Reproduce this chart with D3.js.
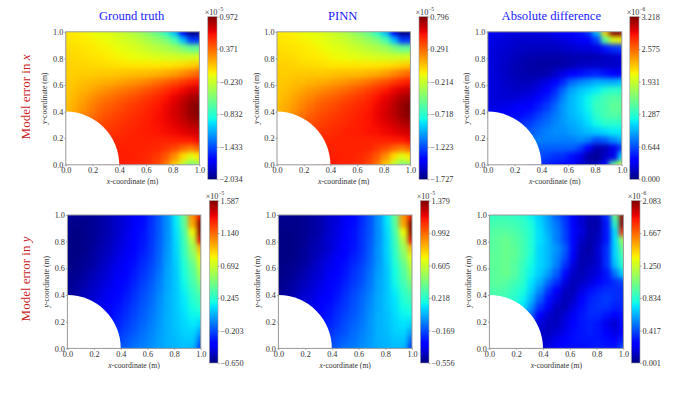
<!DOCTYPE html>
<html>
<head>
	<meta charset="utf-8">
	<title>Model error</title>
	<script src="https://cdn.jsdelivr.net/npm/d3@7"></script>
	<style>
		body { margin: 0; background: #fff; font-family: "Liberation Serif", serif; }
	</style>
</head>
<body>
<div id="chart"></div>
<script>
	const _ = null; // inside the hole

	// rows run from y = 1 down to y = 0, 17 nodes along x
	const truthX = [
		[-.04,-.05,-.07,-.10,-.13,-.16,-.20,-.25,-.32,-.40,-.50,-.62,-.82,-1.10,-1.70,-2.03,-2.00],
		[-.02,-.03,-.05,-.07,-.09,-.12,-.16,-.20,-.24,-.30,-.36,-.44,-.52,-.72,-1.10,-1.50,-1.50],
		[.00,-.01,-.02,-.04,-.06,-.08,-.11,-.14,-.17,-.21,-.25,-.30,-.34,-.40,-.50,-.60,-.60],
		[.02,.01,.00,-.02,-.03,-.05,-.07,-.09,-.11,-.13,-.15,-.17,-.19,-.20,-.21,-.20,-.18],
		[.03,.03,.02,.01,.00,-.01,-.02,-.03,-.03,-.04,-.04,-.04,-.03,-.02,.00,.03,.06],
		[.04,.04,.05,.05,.06,.06,.07,.08,.09,.10,.11,.13,.16,.20,.26,.32,.38],
		[.05,.07,.09,.11,.13,.15,.17,.20,.23,.26,.30,.35,.40,.46,.52,.58,.62],
		[.06,.09,.13,.17,.21,.25,.29,.32,.36,.40,.45,.50,.56,.62,.68,.74,.78],
		[.07,.12,.18,.24,.29,.34,.38,.42,.46,.50,.54,.59,.64,.70,.78,.86,.90],
		[.09,.15,.22,.29,.35,.40,.44,.48,.52,.55,.59,.63,.68,.74,.82,.92,.97],
		[.10,.18,.26,.33,.40,.45,.49,.52,.55,.58,.61,.65,.69,.75,.82,.91,.96],
		[_,_,.36,.40,.45,.49,.52,.55,.57,.60,.62,.65,.68,.72,.78,.84,.88],
		[_,_,_,.46,.50,.53,.55,.57,.59,.61,.62,.64,.66,.68,.71,.75,.78],
		[_,_,_,_,.55,.57,.58,.59,.60,.60,.60,.60,.60,.61,.62,.63,.68],
		[_,_,_,_,_,.59,.60,.60,.60,.60,.59,.58,.54,.48,.38,.32,.40],
		[_,_,_,_,_,.61,.61,.61,.60,.59,.57,.52,.42,.25,.00,-.15,-.05],
		[_,_,_,_,_,.62,.62,.62,.60,.58,.55,.48,.32,.05,-.30,-.55,-.45],
	];
	const pinnX = [
		[-.05,-.06,-.08,-.10,-.13,-.15,-.19,-.23,-.29,-.36,-.44,-.54,-.71,-.94,-1.45,-1.72,-1.70],
		[-.04,-.05,-.06,-.08,-.10,-.12,-.15,-.19,-.22,-.27,-.32,-.39,-.46,-.62,-.94,-1.28,-1.28],
		[-.02,-.03,-.04,-.05,-.07,-.09,-.11,-.14,-.16,-.20,-.23,-.27,-.30,-.35,-.44,-.52,-.52],
		[.00,-.01,-.02,-.04,-.05,-.06,-.08,-.10,-.11,-.13,-.15,-.16,-.18,-.19,-.20,-.19,-.17],
		[.01,.01,.00,-.01,-.02,-.03,-.04,-.05,-.05,-.05,-.05,-.05,-.05,-.04,-.02,.01,.03],
		[.02,.02,.03,.03,.03,.03,.04,.05,.06,.06,.07,.09,.11,.15,.20,.25,.30],
		[.03,.04,.06,.07,.09,.11,.12,.15,.17,.20,.23,.27,.32,.36,.42,.47,.50],
		[.03,.06,.09,.12,.16,.19,.22,.25,.28,.32,.36,.40,.45,.50,.56,.60,.64],
		[.04,.08,.13,.18,.22,.27,.30,.33,.37,.40,.43,.47,.52,.57,.63,.70,.74],
		[.06,.11,.16,.22,.27,.32,.35,.38,.42,.44,.47,.50,.55,.60,.67,.75,.80],
		[.06,.13,.20,.26,.32,.36,.39,.42,.44,.47,.49,.52,.56,.61,.67,.74,.79],
		[_,_,.28,.32,.36,.39,.42,.44,.46,.48,.50,.52,.55,.58,.63,.68,.72],
		[_,_,_,.37,.40,.43,.44,.46,.48,.49,.50,.52,.53,.55,.57,.61,.63],
		[_,_,_,_,.44,.46,.47,.48,.48,.48,.48,.48,.48,.49,.50,.51,.55],
		[_,_,_,_,_,.48,.48,.48,.48,.48,.48,.47,.43,.38,.30,.25,.32],
		[_,_,_,_,_,.49,.49,.49,.48,.48,.46,.42,.33,.19,-.02,-.15,-.06],
		[_,_,_,_,_,.50,.50,.50,.48,.47,.44,.38,.25,.02,-.27,-.48,-.40],
	];
	const diffX = [
		[.33,.30,.28,.27,.26,.26,.26,.28,.32,.36,.40,.45,.55,1.00,2.20,3.20,3.20],
		[.30,.27,.25,.23,.22,.22,.22,.22,.24,.26,.30,.34,.40,.60,1.50,2.00,2.10],
		[.28,.25,.23,.21,.19,.18,.18,.18,.18,.20,.22,.25,.26,.28,.45,.55,.60],
		[.27,.24,.21,.18,.15,.13,.13,.12,.12,.12,.13,.14,.14,.15,.18,.20,.25],
		[.28,.24,.20,.16,.13,.11,.10,.10,.11,.12,.14,.18,.20,.20,.20,.20,.22],
		[.28,.24,.20,.16,.13,.12,.12,.13,.20,.28,.38,.43,.48,.50,.45,.40,.40],
		[.28,.25,.21,.18,.16,.17,.21,.28,.36,.52,.72,.82,.88,.95,.95,.95,1.00],
		[.28,.25,.22,.20,.20,.22,.28,.38,.52,.72,.92,1.02,1.08,1.15,1.25,1.30,1.30],
		[.27,.25,.24,.24,.26,.30,.36,.48,.62,.82,.98,1.08,1.18,1.30,1.40,1.45,1.45],
		[.28,.28,.30,.32,.36,.40,.48,.58,.72,.88,.98,1.08,1.18,1.35,1.40,1.50,1.50],
		[.32,.33,.35,.38,.43,.48,.58,.68,.78,.88,.98,1.05,1.15,1.30,1.40,1.45,1.45],
		[_,_,.42,.48,.53,.58,.68,.74,.82,.88,.94,1.00,1.10,1.20,1.30,1.30,1.30],
		[_,_,_,.53,.60,.68,.74,.80,.85,.85,.90,.95,1.00,1.05,1.10,1.15,1.15],
		[_,_,_,_,.70,.75,.80,.80,.80,.80,.80,.85,.80,.65,.70,.85,.95],
		[_,_,_,_,_,.75,.70,.70,.70,.70,.70,.60,.40,.15,.15,.30,.60],
		[_,_,_,_,_,.70,.65,.60,.55,.55,.45,.30,.12,.06,.20,.30,1.10],
		[_,_,_,_,_,.60,.55,.50,.45,.40,.35,.25,.15,.18,.35,1.50,2.00],
	];
	const truthY = [
		[-.60,-.61,-.62,-.61,-.58,-.55,-.50,-.46,-.42,-.36,-.28,-.18,-.05,.15,.40,1.05,1.35],
		[-.62,-.63,-.63,-.61,-.58,-.55,-.50,-.46,-.41,-.35,-.27,-.18,-.05,.14,.38,1.00,1.58],
		[-.63,-.64,-.63,-.61,-.58,-.55,-.50,-.45,-.40,-.34,-.26,-.18,-.05,.12,.33,.80,1.58],
		[-.64,-.64,-.63,-.61,-.57,-.54,-.49,-.44,-.39,-.33,-.26,-.17,-.05,.11,.30,.65,1.40],
		[-.64,-.64,-.63,-.60,-.56,-.53,-.48,-.43,-.38,-.32,-.25,-.16,-.04,.10,.28,.55,.95],
		[-.64,-.64,-.62,-.59,-.55,-.51,-.46,-.41,-.36,-.30,-.24,-.15,-.03,.09,.26,.48,.80],
		[-.64,-.63,-.61,-.58,-.53,-.49,-.44,-.39,-.34,-.28,-.22,-.14,-.02,.08,.22,.40,.70],
		[-.63,-.62,-.59,-.55,-.51,-.47,-.42,-.37,-.32,-.26,-.20,-.12,-.01,.07,.20,.36,.60],
		[-.62,-.60,-.57,-.53,-.49,-.45,-.40,-.35,-.30,-.24,-.18,-.10,.00,.07,.18,.32,.50],
		[-.61,-.59,-.55,-.51,-.47,-.43,-.38,-.33,-.28,-.22,-.16,-.09,.00,.07,.16,.28,.40],
		[-.60,-.57,-.53,-.49,-.45,-.41,-.36,-.31,-.26,-.20,-.14,-.07,.01,.07,.14,.24,.32],
		[_,_,-.51,-.47,-.43,-.39,-.34,-.29,-.24,-.18,-.13,-.06,.01,.07,.13,.20,.26],
		[_,_,_,-.45,-.41,-.37,-.32,-.27,-.22,-.17,-.11,-.05,.02,.06,.12,.17,.18],
		[_,_,_,_,-.38,-.34,-.30,-.25,-.20,-.15,-.10,-.04,.02,.06,.10,.14,.10],
		[_,_,_,_,_,-.31,-.27,-.22,-.18,-.13,-.08,-.03,.02,.05,.09,.10,-.02],
		[_,_,_,_,_,-.28,-.24,-.19,-.15,-.11,-.07,-.02,.02,.04,.07,.07,-.15],
		[_,_,_,_,_,-.24,-.20,-.16,-.12,-.09,-.05,-.02,.01,.03,.05,.03,-.25],
	];
	const pinnY = [
		[-.52,-.53,-.54,-.53,-.50,-.48,-.43,-.40,-.36,-.31,-.24,-.16,-.04,.13,.35,.91,1.17],
		[-.54,-.54,-.54,-.53,-.50,-.48,-.43,-.40,-.35,-.30,-.23,-.16,-.04,.12,.33,.87,1.37],
		[-.54,-.55,-.54,-.53,-.50,-.48,-.43,-.39,-.35,-.29,-.22,-.16,-.04,.10,.29,.69,1.37],
		[-.55,-.55,-.54,-.53,-.49,-.47,-.42,-.38,-.34,-.29,-.22,-.15,-.04,.09,.26,.56,1.21],
		[-.55,-.55,-.54,-.52,-.48,-.46,-.42,-.37,-.33,-.28,-.22,-.14,-.03,.09,.24,.48,.82],
		[-.55,-.55,-.54,-.51,-.48,-.44,-.40,-.35,-.31,-.26,-.21,-.13,-.03,.08,.22,.42,.69],
		[-.55,-.54,-.53,-.50,-.46,-.42,-.38,-.34,-.29,-.24,-.19,-.12,-.02,.07,.19,.35,.60],
		[-.54,-.54,-.51,-.48,-.44,-.41,-.36,-.32,-.28,-.22,-.17,-.10,-.01,.06,.17,.31,.52],
		[-.54,-.52,-.49,-.46,-.42,-.39,-.35,-.30,-.26,-.21,-.16,-.09,.00,.06,.16,.28,.43],
		[-.53,-.51,-.48,-.44,-.41,-.37,-.33,-.29,-.24,-.19,-.14,-.08,.00,.06,.14,.24,.35],
		[-.52,-.49,-.46,-.42,-.39,-.35,-.31,-.27,-.22,-.17,-.12,-.06,.01,.06,.12,.21,.28],
		[_,_,-.44,-.41,-.37,-.34,-.29,-.25,-.21,-.16,-.11,-.05,.01,.06,.11,.17,.22],
		[_,_,_,-.39,-.35,-.32,-.28,-.23,-.19,-.15,-.10,-.04,.02,.05,.10,.15,.16],
		[_,_,_,_,-.33,-.29,-.26,-.22,-.17,-.13,-.09,-.03,.02,.05,.09,.12,.09],
		[_,_,_,_,_,-.27,-.23,-.19,-.16,-.11,-.07,-.03,.02,.04,.08,.09,-.02],
		[_,_,_,_,_,-.24,-.21,-.16,-.13,-.10,-.06,-.02,.02,.03,.06,.06,-.13],
		[_,_,_,_,_,-.21,-.17,-.14,-.10,-.08,-.04,-.02,.01,.03,.04,.03,-.22],
	];
	const diffY = [
		[.85,.87,.87,.85,.82,.76,.68,.58,.45,.36,.22,.15,.10,.10,.35,1.00,2.05],
		[.90,.91,.91,.89,.86,.80,.70,.60,.50,.38,.25,.15,.08,.08,.30,.85,2.05],
		[.93,.95,.95,.93,.88,.82,.72,.62,.52,.40,.27,.17,.08,.10,.30,.72,1.80],
		[.95,.97,1.00,.95,.90,.82,.72,.64,.52,.40,.27,.13,.08,.12,.30,.72,1.15],
		[.95,.97,1.00,.97,.90,.82,.70,.64,.56,.45,.27,.10,.07,.15,.35,.70,1.00],
		[.97,.97,1.00,.97,.90,.80,.70,.64,.54,.42,.22,.09,.09,.15,.35,.70,.90],
		[.97,.97,1.00,.95,.87,.78,.70,.64,.52,.36,.17,.09,.11,.15,.35,.65,.85],
		[.95,.97,1.00,.95,.85,.76,.68,.58,.45,.28,.13,.10,.14,.18,.30,.50,.70],
		[.95,.97,.95,.90,.84,.73,.62,.48,.36,.18,.10,.13,.17,.25,.30,.35,.40],
		[.93,.93,.92,.86,.80,.70,.55,.38,.26,.12,.10,.18,.28,.32,.35,.35,.35],
		[.90,.90,.88,.84,.76,.64,.46,.30,.18,.10,.13,.25,.32,.35,.38,.35,.35],
		[_,_,.84,.78,.72,.56,.36,.24,.12,.10,.18,.28,.34,.36,.36,.32,.33],
		[_,_,_,.74,.62,.46,.26,.15,.10,.15,.22,.30,.34,.34,.30,.25,.30],
		[_,_,_,_,.50,.36,.17,.12,.12,.18,.25,.30,.32,.30,.20,.15,.28],
		[_,_,_,_,_,.26,.14,.12,.15,.20,.28,.30,.32,.30,.25,.18,.25],
		[_,_,_,_,_,.18,.13,.15,.20,.26,.28,.30,.30,.30,.28,.25,.32],
		[_,_,_,_,_,.14,.14,.18,.24,.28,.28,.28,.30,.32,.30,.30,.42],
	];

	const gridX = [0,.0625,.125,.1875,.25,.3125,.375,.4375,.5,.5625,.625,.6875,.75,.8125,.875,.9375,1];
	const gridY = [1,.9375,.875,.8125,.75,.6875,.625,.5625,.5,.4375,.375,.3125,.25,.1875,.125,.0625,0];
	const axisTicks = [0,.2,.4,.6,.8,1];
	const holeRadius = .4;

	const barTicksTruthX = [-2.034,-1.433,-.832,-.230,.371,.972];
	const barTicksPinnX = [-1.727,-1.223,-.718,-.214,.291,.796];
	const barTicksDiffX = [0,.644,1.287,1.931,2.575,3.218];
	const barTicksTruthY = [-.650,-.203,.245,.692,1.140,1.587];
	const barTicksPinnY = [-.556,-.169,.218,.605,.992,1.379];
	const barTicksDiffY = [.001,.417,.834,1.250,1.667,2.083];

	const titles = ["Ground truth","PINN","Absolute difference"];
	const exponents = ["\u22125","\u22125","\u22126","\u22125","\u22125","\u22126"];

	// layout
	const width = 698, height = 393;
	const jetStops = [0,.11,.125,.35,.375,.64,.66,.89,.91,1];
	const jetColors = ["#000080","#0000ff","#0000ff","#00e6ff","#14ffe2","#ebff08","#ffec00","#ff1300","#e80000","#800000"];

	const panels = [
		{ grid: truthX, ticks: barTicksTruthX, x0: 65.8, x1: 199.4, y0: 31.8, y1: 164.8, bx0: 207.8, bx1: 217, by0: 16.7, by1: 179.3 },
		{ grid: pinnX, ticks: barTicksPinnX, x0: 277, x1: 410.4, y0: 31.8, y1: 164.8, bx0: 419, bx1: 427.8, by0: 16.7, by1: 179.3 },
		{ grid: diffX, ticks: barTicksDiffX, x0: 487.8, x1: 621.8, y0: 31.8, y1: 164.8, bx0: 629.8, bx1: 639, by0: 16.7, by1: 179.3 },
		{ grid: truthY, ticks: barTicksTruthY, x0: 67.4, x1: 200.8, y0: 215, y1: 348.4, bx0: 209.4, bx1: 218, by0: 200.7, by1: 363 },
		{ grid: pinnY, ticks: barTicksPinnY, x0: 278.4, x1: 412, y0: 215, y1: 348.4, bx0: 420.4, bx1: 429, by0: 200.7, by1: 363 },
		{ grid: diffY, ticks: barTicksDiffY, x0: 489.4, x1: 623.4, y0: 215, y1: 348.4, bx0: 631.4, bx1: 640, by0: 200.7, by1: 363 },
	];

	const svg = d3.select("#chart").append("svg")
		.attr("width", width)
		.attr("height", height)
		.attr("font-family", "'Liberation Serif', serif")
		.style("display", "block");

	const defs = svg.append("defs");

	defs.append("filter")
		.attr("id", "soft")
		.attr("filterUnits", "userSpaceOnUse")
		.attr("x", 0).attr("y", 0).attr("width", width).attr("height", height)
		.attr("color-interpolation-filters", "sRGB")
		.append("feGaussianBlur")
		.attr("stdDeviation", 2.6);

	function italicLabel(sel, letter, rest) {
		sel.append("tspan").attr("font-style", "italic").text(letter);
		sel.append("tspan").text(rest);
	}

	panels.forEach((p, n) => {
		const min = p.ticks[0], max = p.ticks[p.ticks.length - 1];
		const x = d3.scaleLinear().domain([0, 1]).range([p.x0, p.x1]);
		const y = d3.scaleLinear().domain([0, 1]).range([p.y1, p.y0]);
		const color = d3.scaleLinear()
			.domain(jetStops.map(t => min + t * (max - min)))
			.range(jetColors)
			.clamp(true);

		const g = svg.append("g");

		defs.append("clipPath")
			.attr("id", `plot${n}`)
			.append("rect")
			.attr("x", p.x0).attr("y", p.y0)
			.attr("width", p.x1 - p.x0).attr("height", p.y1 - p.y0);

		// cells are centred on their node, the outer ones run past the frame so the blur stays opaque
		const step = 1 / 32, pad = .12;
		const cells = p.grid.flatMap((row, r) => row.map((v, c) => ({ v, c, r })))
			.filter(d => d.v !== null);

		g.append("g")
			.attr("clip-path", `url(#plot${n})`)
			.append("g")
			.attr("filter", "url(#soft)")
			.selectAll("rect")
			.data(cells)
			.join("rect")
			.attr("shape-rendering", "crispEdges")
			.attr("x", d => x(d.c === 0 ? -pad : gridX[d.c] - step))
			.attr("width", d => x(d.c === 16 ? 1 + pad : gridX[d.c] + step) - x(d.c === 0 ? -pad : gridX[d.c] - step))
			.attr("y", d => y(d.r === 0 ? 1 + pad : gridY[d.r] + step))
			.attr("height", d => y(d.r === 16 ? -pad : gridY[d.r] - step) - y(d.r === 0 ? 1 + pad : gridY[d.r] + step))
			.attr("fill", d => color(d.v));

		// the quarter hole
		g.append("path")
			.attr("d", d3.arc()({
				innerRadius: 0,
				outerRadius: x(holeRadius) - x(0),
				startAngle: 0,
				endAngle: Math.PI / 2,
			}))
			.attr("transform", `translate(${x(0)},${y(0)}) scale(1,${(y(0) - y(holeRadius)) / (x(holeRadius) - x(0))})`)
			.attr("fill", "#fff");

		g.append("rect")
			.attr("x", p.x0).attr("y", p.y0)
			.attr("width", p.x1 - p.x0).attr("height", p.y1 - p.y0)
			.attr("fill", "none")
			.attr("stroke", "#999")
			.attr("stroke-width", 1);

		const xAxis = g.append("g")
			.attr("transform", `translate(0,${p.y1})`)
			.call(d3.axisBottom(x).tickValues(axisTicks).tickFormat(d3.format(".1f")).tickSize(1.5).tickPadding(1));
		const yAxis = g.append("g")
			.attr("transform", `translate(${p.x0},0)`)
			.call(d3.axisLeft(y).tickValues(axisTicks).tickFormat(d3.format(".1f")).tickSize(1.5).tickPadding(1));
		[xAxis, yAxis].forEach(a => {
			a.select(".domain").remove();
			a.attr("font-family", null).attr("font-size", 8.2);
			a.selectAll("line").attr("stroke", "#777").attr("stroke-width", .6);
			a.selectAll("text").attr("fill", "#333");
		});

		g.append("text")
			.attr("x", (p.x0 + p.x1) / 2)
			.attr("y", p.y1 + 19.5)
			.attr("text-anchor", "middle")
			.attr("font-size", 7.7)
			.attr("fill", "#333")
			.call(italicLabel, "x", "-coordinate (m)");

		g.append("text")
			.attr("transform", `translate(${p.x0 - 18.5},${(p.y0 + p.y1) / 2}) rotate(-90)`)
			.attr("text-anchor", "middle")
			.attr("font-size", 7.7)
			.attr("fill", "#333")
			.call(italicLabel, "y", "-coordinate (m)");

		// colour bar
		const gradId = `bar${n}`;
		const grad = defs.append("linearGradient")
			.attr("id", gradId)
			.attr("x1", 0).attr("x2", 0).attr("y1", 1).attr("y2", 0);
		jetStops.forEach((t, i) => grad.append("stop")
			.attr("offset", t)
			.attr("stop-color", jetColors[i]));

		g.append("rect")
			.attr("x", p.bx0).attr("y", p.by0)
			.attr("width", p.bx1 - p.bx0).attr("height", p.by1 - p.by0)
			.attr("fill", `url(#${gradId})`)
			.attr("stroke", "#999")
			.attr("stroke-width", .6);

		const barScale = d3.scaleLinear().domain([min, max]).range([p.by1, p.by0]);
		const barAxis = g.append("g")
			.attr("transform", `translate(${p.bx1},0)`)
			.call(d3.axisRight(barScale).tickValues(p.ticks).tickFormat(d3.format(".3f")).tickSize(1.5).tickPadding(1));
		barAxis.select(".domain").remove();
		barAxis.attr("font-family", null).attr("font-size", 8.2);
		barAxis.selectAll("line").attr("stroke", "#777").attr("stroke-width", .6);
		barAxis.selectAll("text").attr("fill", "#333");

		const offset = g.append("text")
			.attr("x", p.bx1 - 3)
			.attr("y", p.by0 - 2)
			.attr("text-anchor", "middle")
			.attr("font-size", 8.2)
			.attr("fill", "#333");
		offset.append("tspan").text("\u00d710");
		offset.append("tspan").attr("dy", -4).attr("font-size", 5.5).text(exponents[n]);

		if (n < 3) {
			svg.append("text")
				.attr("x", n === 2 ? p.x0 + 63.5 : (p.x0 + p.x1) / 2 - 1)
				.attr("y", 19.5)
				.attr("text-anchor", "middle")
				.attr("font-size", 12.6)
				.attr("fill", "#1a1aff")
				.text(titles[n]);
		}
	});

	[["x", 97], ["y", 279]].forEach(([letter, cy]) => {
		const label = svg.append("text")
			.attr("transform", `translate(30,${cy}) rotate(-90)`)
			.attr("text-anchor", "middle")
			.attr("font-size", 13)
			.attr("fill", "#c8201e");
		label.append("tspan").text("Model error in ");
		label.append("tspan").attr("font-style", "italic").text(letter);
	});
</script>
</body>
</html>
